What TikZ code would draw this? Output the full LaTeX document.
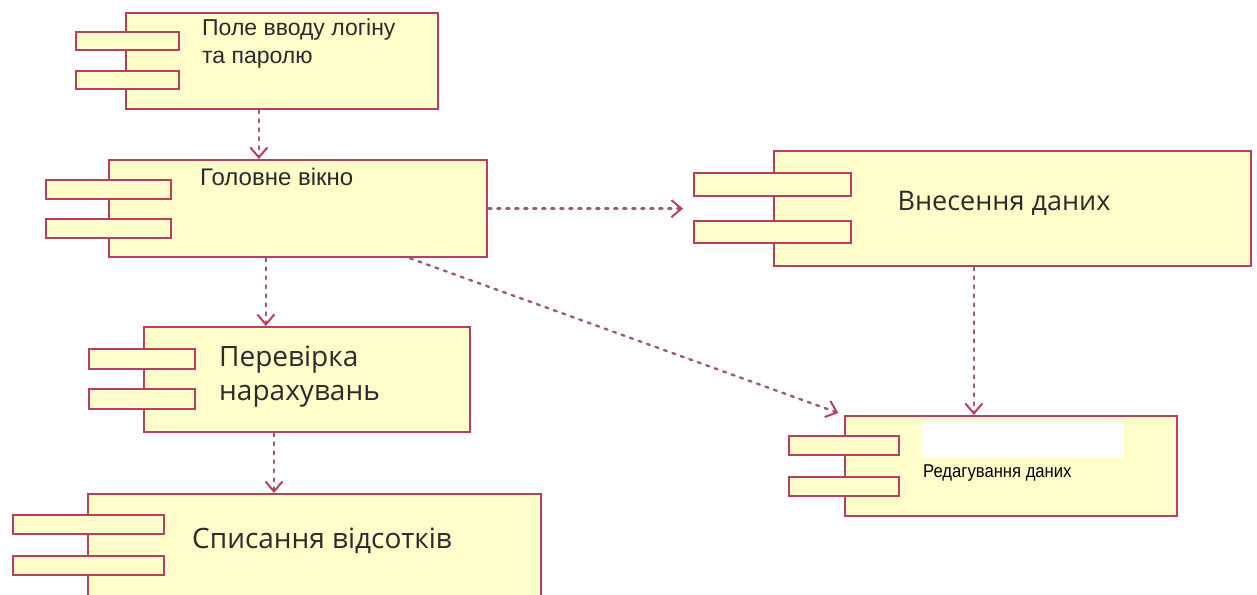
\documentclass[tikz,border=0pt]{standalone}
\usepackage{fontspec}
\setmainfont{Open Sans}
\newfontfamily\arialf{Liberation Sans}
\newfontfamily\narrowf[FakeStretch=0.9]{Liberation Sans}
\usetikzlibrary{arrows.meta,calc}
\definecolor{bordc}{HTML}{B8405E}
\definecolor{fillc}{HTML}{FFFDC9}
\definecolor{dotc}{HTML}{9C5A78}
\definecolor{textc}{HTML}{2B2B2B}
\tikzset{
  comp/.style={draw=bordc, fill=fillc, line width=2.3pt, inner sep=0pt, anchor=north west},
  tab/.style={draw=bordc, fill=fillc, line width=2.3pt, inner sep=0pt, anchor=north west},
  lbl/.style={text=textc, inner sep=0pt, anchor=west, align=left},
  dep/.style={draw=dotc, line width=2.4pt, line cap=round, dash pattern=on 3pt off 6pt,
    -{Straight Barb[length=10pt,width=17pt,line width=2pt,color=bordc]}}
}
\begin{document}
\begin{tikzpicture}[x=1pt,y=-1pt]
\clip (0,0) rectangle (1257,594);
\fill[white] (0,0) rectangle (1257,594);
% login
\node[comp, minimum width=312pt, minimum height=96pt] (login) at (125,12) {};
\node[tab, minimum width=103pt, minimum height=18pt] (loginT1) at (75,31) {};
\node[tab, minimum width=103pt, minimum height=18pt] (loginT2) at (75,70) {};
\node[lbl, font=\arialf\fontsize{23}{28}\selectfont] (loginL) at (202,44) {Поле вводу логіну\\та паролю};
% main window
\node[comp, minimum width=378pt, minimum height=97pt] (main) at (108,159) {};
\node[tab, minimum width=125pt, minimum height=19pt] (mainT1) at (45,179) {};
\node[tab, minimum width=125pt, minimum height=19pt] (mainT2) at (45,218) {};
\node[lbl, font=\arialf\fontsize{24}{28}\selectfont] (mainL) at (200,177) {Головне вікно};
% data entry
\node[comp, minimum width=477pt, minimum height=115pt] (vnes) at (773,150) {};
\node[tab, minimum width=157pt, minimum height=23pt] (vnesT1) at (693,172) {};
\node[tab, minimum width=157pt, minimum height=22pt] (vnesT2) at (693,220) {};
\node[text=textc, inner sep=0pt, font=\fontsize{27}{32}\selectfont] (vnesL) at (1004,203) {Внесення даних};
% check
\node[comp, minimum width=326pt, minimum height=105pt] (perev) at (143,326) {};
\node[tab, minimum width=106pt, minimum height=20pt] (perevT1) at (88,348) {};
\node[tab, minimum width=106pt, minimum height=20pt] (perevT2) at (88,388) {};
\node[lbl, font=\fontsize{28}{34}\selectfont] (perevL) at (219,377) {Перевірка\\нарахувань};
% write-off
\node[comp, minimum width=453pt, minimum height=120pt] (spys) at (87,493) {};
\node[tab, minimum width=151pt, minimum height=19pt] (spysT1) at (12,514) {};
\node[tab, minimum width=151pt, minimum height=19pt] (spysT2) at (12,555) {};
\node[lbl, font=\fontsize{28}{32}\selectfont] (spysL) at (192,541) {Списання відсотків};
% edit
\node[comp, minimum width=332pt, minimum height=100pt] (red) at (844,415) {};
\node[tab, minimum width=110pt, minimum height=19pt] (redT1) at (788,435) {};
\node[tab, minimum width=110pt, minimum height=19pt] (redT2) at (788,476) {};
\node[fill=white, inner sep=0pt, anchor=north west, minimum width=202pt, minimum height=36pt] (redW) at (922,422) {};
\node[lbl, text=black, font=\narrowf\fontsize{18.5}{22}\selectfont] (redL) at (923,473) {Редагування даних};
% connectors
\coordinate (a1) at ($(login.south west)!0.426!(login.south east)$);
\draw[dep] (a1) -- (a1 |- main.north);
\draw[dep, shorten >=10pt] (main.east) -- (main.east -| vnesT1.west);
\coordinate (a3) at ($(main.south west)!0.415!(main.south east)$);
\draw[dep] (a3) -- (a3 |- perev.north);
\coordinate (a4) at ($(main.south west)!0.794!(main.south east)$);
\draw[dep, shorten >=6pt] (a4) -- (red.north west);
\coordinate (a5) at ($(vnes.south west)!0.419!(vnes.south east)$);
\draw[dep] (a5) -- (a5 |- red.north);
\coordinate (a6) at ($(perev.south west)!0.399!(perev.south east)$);
\draw[dep] (a6) -- (a6 |- spys.north);
\end{tikzpicture}
\end{document}
